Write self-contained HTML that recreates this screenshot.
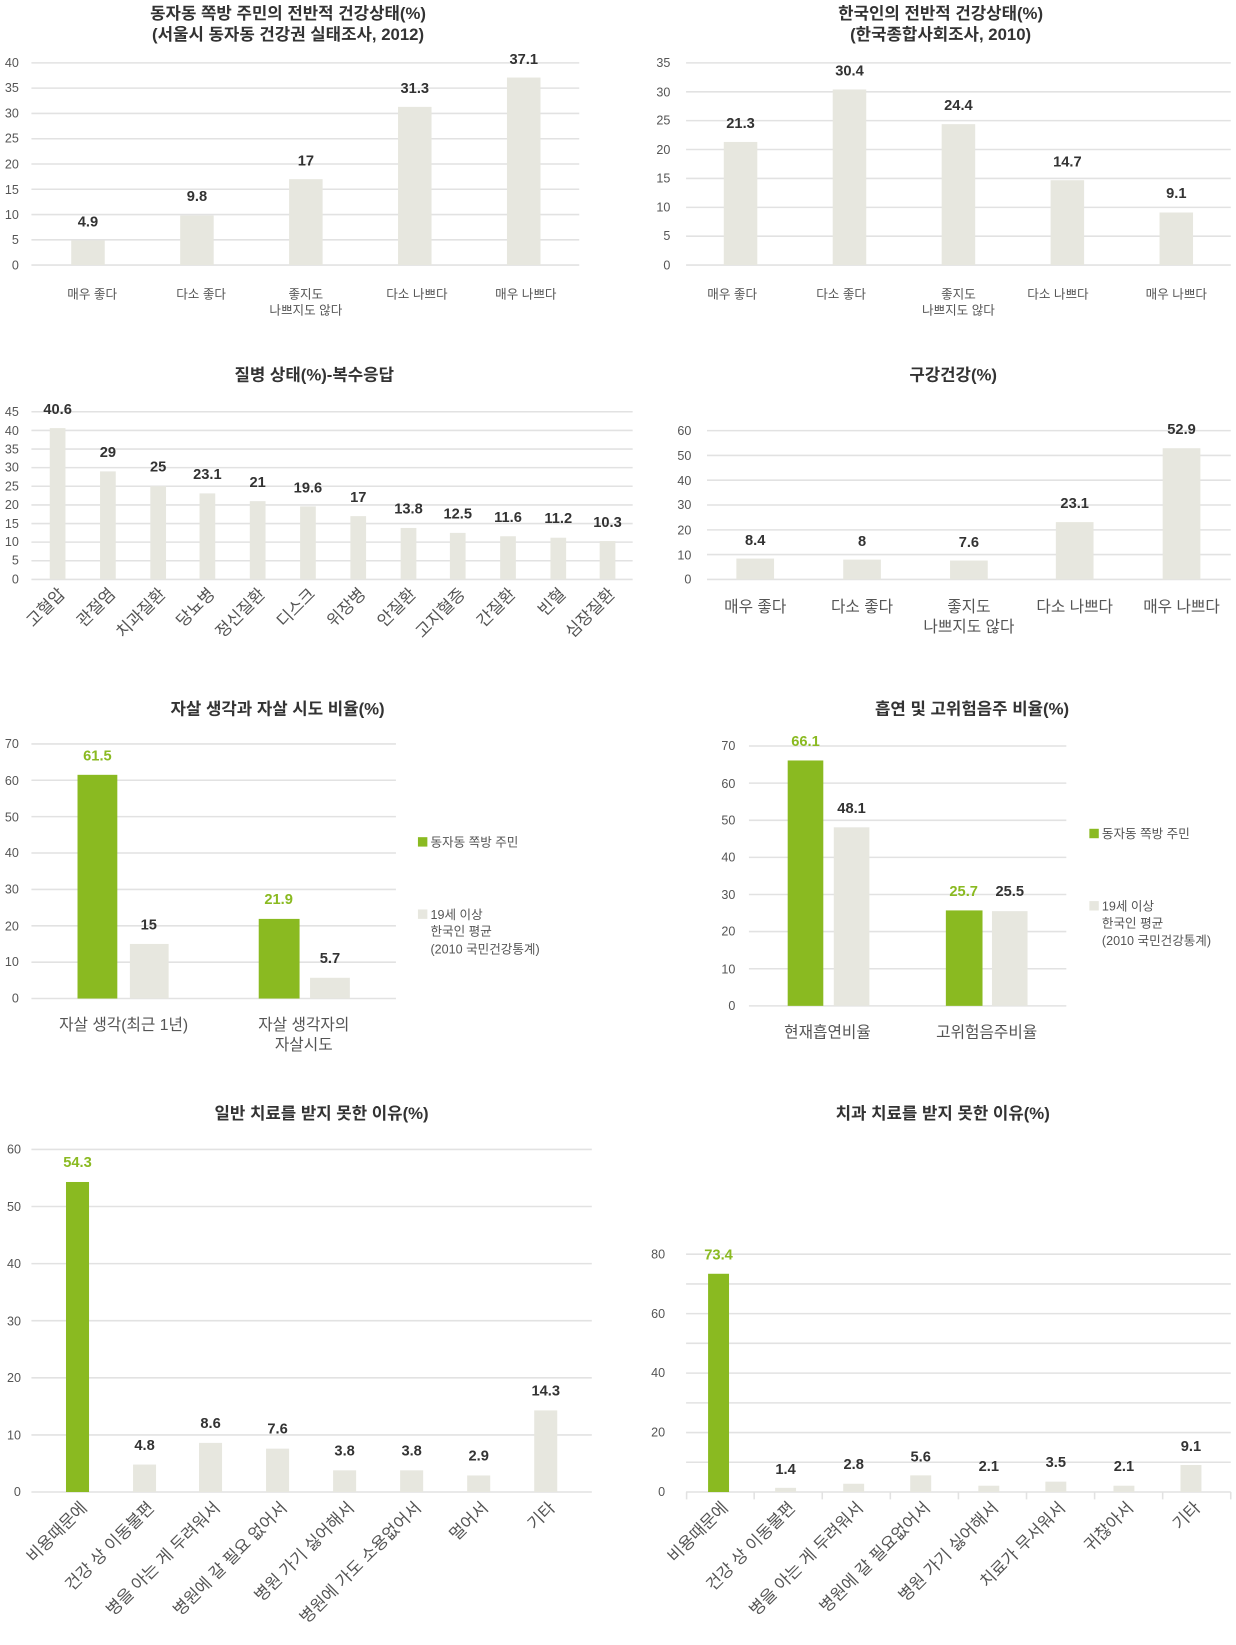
<!DOCTYPE html>
<html><head><meta charset="utf-8"><style>
html,body{margin:0;padding:0;background:#fff;width:1236px;height:1645px;overflow:hidden}
svg{display:block}
text{font-family:"Liberation Sans","Noto Sans CJK KR",sans-serif}
.t{font-size:16px;font-weight:bold;fill:#333;text-anchor:middle}
.y{font-size:12px;fill:#555;text-anchor:end}
.x{font-size:12px;fill:#555;text-anchor:middle}
.x2{font-size:15px;fill:#555;text-anchor:middle}
.v{font-size:14px;font-weight:bold;fill:#333;text-anchor:middle}
.vg{font-size:14px;font-weight:bold;fill:#8aba21;text-anchor:middle}
.r{font-size:16px;fill:#555;text-anchor:end}
.lg{font-size:12px;fill:#555}
.g line{stroke:#e2e2e2;stroke-width:1.5}
.b{fill:#e7e7df}
.gr{fill:#8aba21}
</style></head><body>
<svg width="1236" height="1645" viewBox="0 0 1180 1570" preserveAspectRatio="none" xmlns="http://www.w3.org/2000/svg">
<!-- Chart 1 -->
<text class="t" x="275" y="18">동자동 쪽방 주민의 전반적 건강상태(%)</text>
<text class="t" x="275" y="38">(서울시 동자동 건강권 실태조사, 2012)</text>
<g class="g"><line x1="30" x2="553" y1="253" y2="253"/><line x1="30" x2="553" y1="228.9" y2="228.9"/><line x1="30" x2="553" y1="204.75" y2="204.75"/><line x1="30" x2="553" y1="180.6" y2="180.6"/><line x1="30" x2="553" y1="156.5" y2="156.5"/><line x1="30" x2="553" y1="132.4" y2="132.4"/><line x1="30" x2="553" y1="108.25" y2="108.25"/><line x1="30" x2="553" y1="84.1" y2="84.1"/><line x1="30" x2="553" y1="60" y2="60"/></g>
<text class="y" x="18" y="257">0</text><text class="y" x="18" y="233">5</text><text class="y" x="18" y="209">10</text><text class="y" x="18" y="185">15</text><text class="y" x="18" y="161">20</text><text class="y" x="18" y="136">25</text><text class="y" x="18" y="112">30</text><text class="y" x="18" y="88">35</text><text class="y" x="18" y="64">40</text>
<rect class="b" x="68" y="229.4" width="32" height="23.6"/><rect class="b" x="172" y="205.7" width="32" height="47.3"/><rect class="b" x="276" y="171" width="32" height="82"/><rect class="b" x="380" y="102" width="32" height="151"/><rect class="b" x="484" y="74" width="32" height="179"/>
<text class="v" x="84" y="216">4.9</text><text class="v" x="188" y="192">9.8</text><text class="v" x="292" y="158">17</text><text class="v" x="396" y="89">31.3</text><text class="v" x="500" y="61">37.1</text>
<text class="x" x="88" y="285">매우 좋다</text><text class="x" x="192" y="285">다소 좋다</text><text class="x" x="292" y="285">좋지도</text><text class="x" x="292" y="300">나쁘지도 않다</text><text class="x" x="398" y="285">다소 나쁘다</text><text class="x" x="502" y="285">매우 나쁘다</text>

<!-- Chart 2 -->
<text class="t" x="898" y="18">한국인의 전반적 건강상태(%)</text>
<text class="t" x="898" y="38">(한국종합사회조사, 2010)</text>
<g class="g"><line x1="655" x2="1175" y1="253" y2="253"/><line x1="655" x2="1175" y1="225.4" y2="225.4"/><line x1="655" x2="1175" y1="197.9" y2="197.9"/><line x1="655" x2="1175" y1="170.3" y2="170.3"/><line x1="655" x2="1175" y1="142.7" y2="142.7"/><line x1="655" x2="1175" y1="115.1" y2="115.1"/><line x1="655" x2="1175" y1="87.6" y2="87.6"/><line x1="655" x2="1175" y1="60" y2="60"/></g>
<text class="y" x="640" y="257">0</text><text class="y" x="640" y="229">5</text><text class="y" x="640" y="202">10</text><text class="y" x="640" y="174">15</text><text class="y" x="640" y="147">20</text><text class="y" x="640" y="119">25</text><text class="y" x="640" y="92">30</text><text class="y" x="640" y="64">35</text>
<rect class="b" x="691" y="135.5" width="32" height="117.5"/><rect class="b" x="795" y="85.4" width="32" height="167.6"/><rect class="b" x="899" y="118.5" width="32" height="134.5"/><rect class="b" x="1003" y="172" width="32" height="81"/><rect class="b" x="1107" y="202.8" width="32" height="50.2"/>
<text class="v" x="707" y="122">21.3</text><text class="v" x="811" y="72">30.4</text><text class="v" x="915" y="105">24.4</text><text class="v" x="1019" y="159">14.7</text><text class="v" x="1123" y="189">9.1</text>
<text class="x" x="699" y="285">매우 좋다</text><text class="x" x="803" y="285">다소 좋다</text><text class="x" x="915" y="285">좋지도</text><text class="x" x="915" y="300">나쁘지도 않다</text><text class="x" x="1010" y="285">다소 나쁘다</text><text class="x" x="1123" y="285">매우 나쁘다</text>

<!-- Chart 3 -->
<text class="t" x="300" y="363">질병 상태(%)-복수응답</text>
<g class="g"><line x1="30" x2="604" y1="553" y2="553"/><line x1="30" x2="604" y1="535.2" y2="535.2"/><line x1="30" x2="604" y1="517.4" y2="517.4"/><line x1="30" x2="604" y1="499.7" y2="499.7"/><line x1="30" x2="604" y1="481.9" y2="481.9"/><line x1="30" x2="604" y1="464.1" y2="464.1"/><line x1="30" x2="604" y1="446.3" y2="446.3"/><line x1="30" x2="604" y1="428.6" y2="428.6"/><line x1="30" x2="604" y1="410.8" y2="410.8"/><line x1="30" x2="604" y1="393" y2="393"/></g>
<text class="y" x="18" y="557">0</text><text class="y" x="18" y="539">5</text><text class="y" x="18" y="521">10</text><text class="y" x="18" y="504">15</text><text class="y" x="18" y="486">20</text><text class="y" x="18" y="468">25</text><text class="y" x="18" y="450">30</text><text class="y" x="18" y="433">35</text><text class="y" x="18" y="415">40</text><text class="y" x="18" y="397">45</text>
<rect class="b" x="47.5" y="408.6" width="15" height="144.4"/><rect class="b" x="95.5" y="449.9" width="15" height="103.1"/><rect class="b" x="143.5" y="464.1" width="15" height="88.9"/><rect class="b" x="190.5" y="470.9" width="15" height="82.1"/><rect class="b" x="238.5" y="478.3" width="15" height="74.7"/><rect class="b" x="286.5" y="483.3" width="15" height="69.7"/><rect class="b" x="334.5" y="492.6" width="15" height="60.4"/><rect class="b" x="382.5" y="503.9" width="15" height="49.1"/><rect class="b" x="429.5" y="508.6" width="15" height="44.4"/><rect class="b" x="477.5" y="511.8" width="15" height="41.2"/><rect class="b" x="525.5" y="513.2" width="15" height="39.8"/><rect class="b" x="572.5" y="516.4" width="15" height="36.6"/>
<text class="v" x="55" y="395">40.6</text><text class="v" x="103" y="436">29</text><text class="v" x="151" y="450">25</text><text class="v" x="198" y="457">23.1</text><text class="v" x="246" y="465">21</text><text class="v" x="294" y="470">19.6</text><text class="v" x="342" y="479">17</text><text class="v" x="390" y="490">13.8</text><text class="v" x="437" y="495">12.5</text><text class="v" x="485" y="498">11.6</text><text class="v" x="533" y="499">11.2</text><text class="v" x="580" y="503">10.3</text>
<text class="r" transform="translate(63,568) rotate(-45)">고혈압</text><text class="r" transform="translate(111,568) rotate(-45)">관절염</text><text class="r" transform="translate(159,568) rotate(-45)">치과질환</text><text class="r" transform="translate(206,568) rotate(-45)">당뇨병</text><text class="r" transform="translate(254,568) rotate(-45)">정신질환</text><text class="r" transform="translate(302,568) rotate(-45)">디스크</text><text class="r" transform="translate(350,568) rotate(-45)">위장병</text><text class="r" transform="translate(398,568) rotate(-45)">안질환</text><text class="r" transform="translate(445,568) rotate(-45)">고지혈증</text><text class="r" transform="translate(493,568) rotate(-45)">간질환</text><text class="r" transform="translate(541,568) rotate(-45)">빈혈</text><text class="r" transform="translate(588,568) rotate(-45)">심장질환</text>

<!-- Chart 4 -->
<text class="t" x="910" y="363">구강건강(%)</text>
<g class="g"><line x1="675" x2="1175" y1="553" y2="553"/><line x1="675" x2="1175" y1="529.3" y2="529.3"/><line x1="675" x2="1175" y1="505.7" y2="505.7"/><line x1="675" x2="1175" y1="482" y2="482"/><line x1="675" x2="1175" y1="458.3" y2="458.3"/><line x1="675" x2="1175" y1="434.7" y2="434.7"/><line x1="675" x2="1175" y1="411" y2="411"/></g>
<text class="y" x="660" y="557">0</text><text class="y" x="660" y="534">10</text><text class="y" x="660" y="510">20</text><text class="y" x="660" y="486">30</text><text class="y" x="660" y="463">40</text><text class="y" x="660" y="439">50</text><text class="y" x="660" y="415">60</text>
<rect class="b" x="703" y="533.1" width="36" height="19.9"/><rect class="b" x="805" y="534.1" width="36" height="18.9"/><rect class="b" x="907" y="535" width="36" height="18"/><rect class="b" x="1008" y="498.3" width="36" height="54.7"/><rect class="b" x="1110" y="427.8" width="36" height="125.2"/>
<text class="v" x="721" y="520">8.4</text><text class="v" x="823" y="521">8</text><text class="v" x="925" y="522">7.6</text><text class="v" x="1026" y="485">23.1</text><text class="v" x="1128" y="414">52.9</text>
<text class="x2" x="721" y="584">매우 좋다</text><text class="x2" x="823" y="584">다소 좋다</text><text class="x2" x="925" y="584">좋지도</text><text class="x2" x="925" y="603">나쁘지도 않다</text><text class="x2" x="1026" y="584">다소 나쁘다</text><text class="x2" x="1128" y="584">매우 나쁘다</text>

<!-- Chart 5 -->
<text class="t" x="265" y="682">자살 생각과 자살 시도 비율(%)</text>
<g class="g"><line x1="30" x2="378" y1="953" y2="953"/><line x1="30" x2="378" y1="918.3" y2="918.3"/><line x1="30" x2="378" y1="883.6" y2="883.6"/><line x1="30" x2="378" y1="848.9" y2="848.9"/><line x1="30" x2="378" y1="814.1" y2="814.1"/><line x1="30" x2="378" y1="779.4" y2="779.4"/><line x1="30" x2="378" y1="744.7" y2="744.7"/><line x1="30" x2="378" y1="710" y2="710"/></g>
<text class="y" x="18" y="957">0</text><text class="y" x="18" y="922">10</text><text class="y" x="18" y="888">20</text><text class="y" x="18" y="853">30</text><text class="y" x="18" y="818">40</text><text class="y" x="18" y="784">50</text><text class="y" x="18" y="749">60</text><text class="y" x="18" y="714">70</text>
<rect class="gr" x="74" y="739.5" width="38" height="213.5"/><rect class="b" x="124" y="900.9" width="37" height="52.1"/><rect class="gr" x="247" y="877" width="39" height="76"/><rect class="b" x="296" y="933.2" width="38" height="19.8"/>
<text class="vg" x="93" y="726">61.5</text><text class="v" x="142" y="887">15</text><text class="vg" x="266" y="863">21.9</text><text class="v" x="315" y="919">5.7</text>
<text class="x2" x="118" y="983">자살 생각(최근 1년)</text><text class="x2" x="290" y="983">자살 생각자의</text><text class="x2" x="290" y="1002">자살시도</text>
<rect class="gr" x="399" y="799" width="9" height="9"/><text class="lg" x="411" y="808">동자동 쪽방 주민</text>
<rect class="b" x="399" y="868" width="9" height="9"/><text class="lg" x="411" y="877">19세 이상</text><text class="lg" x="411" y="893">한국인 평균</text><text class="lg" x="411" y="910">(2010 국민건강통계)</text>

<!-- Chart 6 -->
<text class="t" x="928" y="682">흡연 및 고위험음주 비율(%)</text>
<g class="g"><line x1="715" x2="1018" y1="960" y2="960"/><line x1="715" x2="1018" y1="924.6" y2="924.6"/><line x1="715" x2="1018" y1="889.1" y2="889.1"/><line x1="715" x2="1018" y1="853.7" y2="853.7"/><line x1="715" x2="1018" y1="818.3" y2="818.3"/><line x1="715" x2="1018" y1="782.9" y2="782.9"/><line x1="715" x2="1018" y1="747.4" y2="747.4"/><line x1="715" x2="1018" y1="712" y2="712"/></g>
<text class="y" x="702" y="964">0</text><text class="y" x="702" y="929">10</text><text class="y" x="702" y="893">20</text><text class="y" x="702" y="858">30</text><text class="y" x="702" y="822">40</text><text class="y" x="702" y="787">50</text><text class="y" x="702" y="752">60</text><text class="y" x="702" y="716">70</text>
<rect class="gr" x="752" y="725.8" width="34" height="234.2"/><rect class="b" x="796" y="789.6" width="34" height="170.4"/><rect class="gr" x="903" y="868.9" width="35" height="91.1"/><rect class="b" x="947" y="869.6" width="34" height="90.4"/>
<text class="vg" x="769" y="712">66.1</text><text class="v" x="813" y="776">48.1</text><text class="vg" x="920" y="855">25.7</text><text class="v" x="964" y="855">25.5</text>
<text class="x2" x="790" y="990">현재흡연비율</text><text class="x2" x="942" y="990">고위험음주비율</text>
<rect class="gr" x="1040" y="791" width="9" height="9"/><text class="lg" x="1052" y="800">동자동 쪽방 주민</text>
<rect class="b" x="1040" y="860" width="9" height="9"/><text class="lg" x="1052" y="869">19세 이상</text><text class="lg" x="1052" y="885">한국인 평균</text><text class="lg" x="1052" y="902">(2010 국민건강통계)</text>

<!-- Chart 7 -->
<text class="t" x="307" y="1068">일반 치료를 받지 못한 이유(%)</text>
<g class="g"><line x1="30" x2="565" y1="1424" y2="1424"/><line x1="30" x2="565" y1="1369.5" y2="1369.5"/><line x1="30" x2="565" y1="1315" y2="1315"/><line x1="30" x2="565" y1="1260.5" y2="1260.5"/><line x1="30" x2="565" y1="1206" y2="1206"/><line x1="30" x2="565" y1="1151.5" y2="1151.5"/><line x1="30" x2="565" y1="1097" y2="1097"/></g>
<text class="y" x="20" y="1428">0</text><text class="y" x="20" y="1374">10</text><text class="y" x="20" y="1319">20</text><text class="y" x="20" y="1265">30</text><text class="y" x="20" y="1210">40</text><text class="y" x="20" y="1156">50</text><text class="y" x="20" y="1101">60</text>
<rect class="gr" x="63" y="1128.1" width="22" height="295.9"/><rect class="b" x="127" y="1397.8" width="22" height="26.2"/><rect class="b" x="190" y="1377.1" width="22" height="46.9"/><rect class="b" x="254" y="1382.6" width="22" height="41.4"/><rect class="b" x="318" y="1403.3" width="22" height="20.7"/><rect class="b" x="382" y="1403.3" width="22" height="20.7"/><rect class="b" x="446" y="1408.2" width="22" height="15.8"/><rect class="b" x="510" y="1346.1" width="22" height="77.9"/>
<text class="vg" x="74" y="1114">54.3</text><text class="v" x="138" y="1384">4.8</text><text class="v" x="201" y="1363">8.6</text><text class="v" x="265" y="1368">7.6</text><text class="v" x="329" y="1389">3.8</text><text class="v" x="393" y="1389">3.8</text><text class="v" x="457" y="1394">2.9</text><text class="v" x="521" y="1332">14.3</text>
<text class="r" transform="translate(84,1440) rotate(-45)">비용때문에</text><text class="r" transform="translate(148,1440) rotate(-45)">건강 상 이동불편</text><text class="r" transform="translate(211,1440) rotate(-45)">병을 아는 게 두려워서</text><text class="r" transform="translate(275,1440) rotate(-45)">병원에 갈 필요 없어서</text><text class="r" transform="translate(339,1440) rotate(-45)">병원 가기 싫어해서</text><text class="r" transform="translate(403,1440) rotate(-45)">병원에 가도 소용없어서</text><text class="r" transform="translate(467,1440) rotate(-45)">멀어서</text><text class="r" transform="translate(531,1440) rotate(-45)">기타</text>

<!-- Chart 8 -->
<text class="t" x="900" y="1068">치과 치료를 받지 못한 이유(%)</text>
<g class="g"><line x1="655" x2="1175" y1="1424" y2="1424"/><line x1="655" x2="1175" y1="1395.6" y2="1395.6"/><line x1="655" x2="1175" y1="1367.25" y2="1367.25"/><line x1="655" x2="1175" y1="1338.9" y2="1338.9"/><line x1="655" x2="1175" y1="1310.5" y2="1310.5"/><line x1="655" x2="1175" y1="1282.1" y2="1282.1"/><line x1="655" x2="1175" y1="1253.75" y2="1253.75"/><line x1="655" x2="1175" y1="1225.4" y2="1225.4"/><line x1="655" x2="1175" y1="1197" y2="1197"/>
<line x1="655.5" x2="655.5" y1="1424" y2="1431"/><line x1="720" x2="720" y1="1424" y2="1431"/><line x1="785" x2="785" y1="1424" y2="1431"/><line x1="850" x2="850" y1="1424" y2="1431"/><line x1="915" x2="915" y1="1424" y2="1431"/><line x1="980" x2="980" y1="1424" y2="1431"/><line x1="1045" x2="1045" y1="1424" y2="1431"/><line x1="1110" x2="1110" y1="1424" y2="1431"/><line x1="1175" x2="1175" y1="1424" y2="1431"/></g>
<text class="y" x="635" y="1428">0</text><text class="y" x="635" y="1371">20</text><text class="y" x="635" y="1314">40</text><text class="y" x="635" y="1258">60</text><text class="y" x="635" y="1201">80</text>
<rect class="gr" x="676" y="1215.7" width="20" height="208.3"/><rect class="b" x="740" y="1420" width="20" height="4"/><rect class="b" x="805" y="1416.1" width="20" height="7.9"/><rect class="b" x="869" y="1408.1" width="20" height="15.9"/><rect class="b" x="934" y="1418" width="20" height="6"/><rect class="b" x="998" y="1414.1" width="20" height="9.9"/><rect class="b" x="1063" y="1418" width="20" height="6"/><rect class="b" x="1127" y="1398.2" width="20" height="25.8"/>
<text class="vg" x="686" y="1202">73.4</text><text class="v" x="750" y="1407">1.4</text><text class="v" x="815" y="1402">2.8</text><text class="v" x="879" y="1395">5.6</text><text class="v" x="944" y="1404">2.1</text><text class="v" x="1008" y="1400">3.5</text><text class="v" x="1073" y="1404">2.1</text><text class="v" x="1137" y="1385">9.1</text>
<text class="r" transform="translate(696,1440) rotate(-45)">비용때문에</text><text class="r" transform="translate(760,1440) rotate(-45)">건강 상 이동불편</text><text class="r" transform="translate(825,1440) rotate(-45)">병을 아는 게 두려워서</text><text class="r" transform="translate(889,1440) rotate(-45)">병원에 갈 필요없어서</text><text class="r" transform="translate(954,1440) rotate(-45)">병원 가기 싫어해서</text><text class="r" transform="translate(1018,1440) rotate(-45)">치료가 무서워서</text><text class="r" transform="translate(1083,1440) rotate(-45)">귀찮아서</text><text class="r" transform="translate(1147,1440) rotate(-45)">기타</text>
</svg>
</body></html>
